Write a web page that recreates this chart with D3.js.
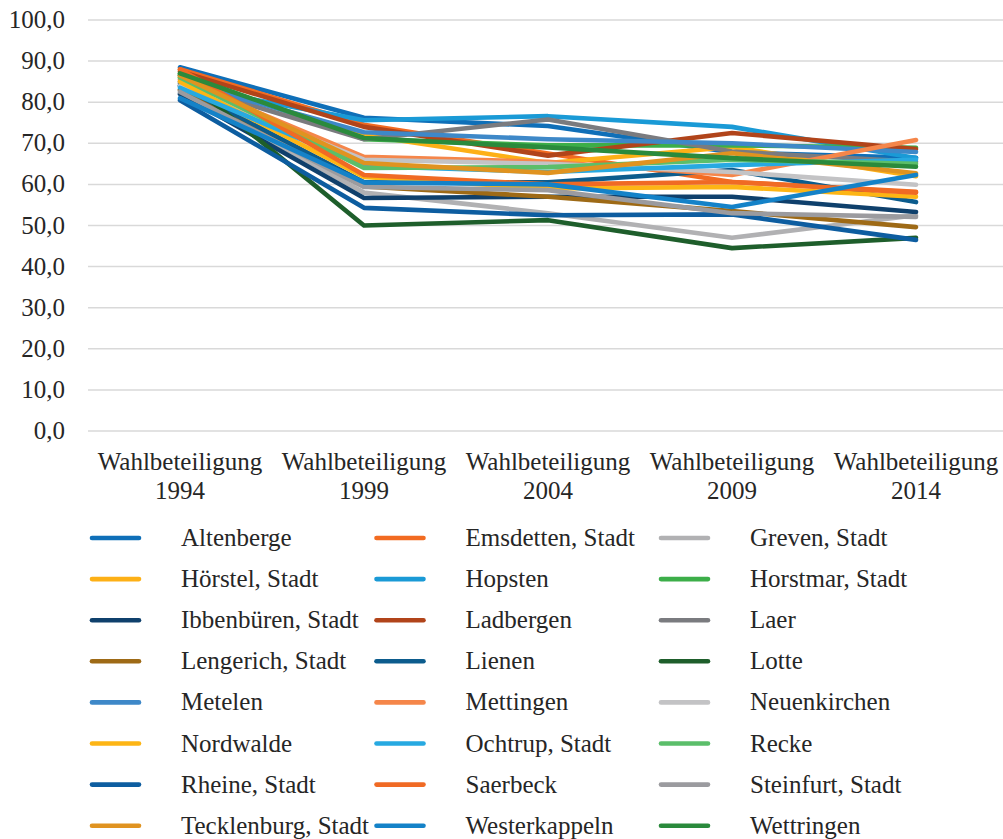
<!DOCTYPE html>
<html>
<head>
<meta charset="utf-8">
<script src="https://cdn.jsdelivr.net/npm/d3@7"></script>
</head>
<body style="margin:0">
<script>
// categories and values
const years = ["1994", "1999", "2004", "2009", "2014"];
const yTicks = [0, 10, 20, 30, 40, 50, 60, 70, 80, 90, 100];

const towns = ["Altenberge", "Emsdetten, Stadt", "Greven, Stadt", "Hörstel, Stadt", "Hopsten", "Horstmar, Stadt",
  "Ibbenbüren, Stadt", "Ladbergen", "Laer", "Lengerich, Stadt", "Lienen", "Lotte",
  "Metelen", "Mettingen", "Neuenkirchen", "Nordwalde", "Ochtrup, Stadt", "Recke",
  "Rheine, Stadt", "Saerbeck", "Steinfurt, Stadt", "Tecklenburg, Stadt", "Westerkappeln", "Wettringen"];

const turnout = [
  [88.5, 76.2, 74.2, 67.8, 66.5],
  [88.0, 74.5, 67.5, 60.6, 58.2],
  [83.0, 58.0, 53.0, 47.0, 52.5],
  [86.0, 72.0, 65.2, 69.1, 62.0],
  [84.0, 75.6, 76.6, 74.0, 66.4],
  [87.0, 71.0, 69.5, 69.5, 68.9],
  [82.0, 56.7, 57.0, 57.0, 53.3],
  [87.5, 74.0, 67.0, 72.5, 68.6],
  [84.5, 71.0, 75.8, 68.0, 65.5],
  [83.0, 59.5, 57.0, 53.5, 49.6],
  [84.0, 60.5, 60.5, 63.5, 55.7],
  [86.5, 50.0, 51.3, 44.5, 47.0],
  [85.0, 72.7, 71.0, 70.0, 67.9],
  [85.5, 66.7, 65.5, 62.3, 70.8],
  [84.0, 66.0, 65.0, 63.0, 59.9],
  [85.0, 61.8, 59.0, 59.4, 57.0],
  [83.5, 64.5, 63.0, 64.7, 66.0],
  [86.0, 64.0, 64.2, 66.0, 65.0],
  [80.5, 54.3, 52.5, 52.7, 46.5],
  [88.0, 62.3, 60.0, 60.6, 58.0],
  [82.5, 59.4, 58.6, 53.0, 52.1],
  [86.5, 65.2, 62.8, 67.6, 62.7],
  [81.0, 60.5, 60.0, 54.5, 62.3],
  [87.0, 71.3, 69.0, 66.4, 64.3]
];

const colors = ["#0f6fb8", "#f26b21", "#b1b1b3", "#fdb016", "#1a9ad6", "#3cae49",
  "#0f406c", "#b1441a", "#7a7b7f", "#9e6a16", "#0c5c8d", "#1e5e2b",
  "#3e88c8", "#f5864a", "#c3c3c5", "#fdb515", "#27a9e1", "#5bbe6a",
  "#0d5da0", "#f06a24", "#9b9b9f", "#e09320", "#1482c8", "#2a8a3c"];

const width = 1003, height = 839;
const svg = d3.select("body").append("svg")
  .attr("width", width)
  .attr("height", height);

const x = d3.scaleBand().domain(years).range([88, 1008]);
const y = d3.scaleLinear().domain([0, 100]).range([431, 20]);
const cx = d => x(d) + x.bandwidth() / 2;

// gridlines
svg.append("g")
  .selectAll("line")
  .data(yTicks)
  .join("line")
  .attr("x1", 88).attr("x2", 1003)
  .attr("y1", d => y(d)).attr("y2", d => y(d))
  .attr("stroke", "#d9d9d9")
  .attr("stroke-width", 1.5);

// y labels
svg.append("g")
  .selectAll("text")
  .data(yTicks)
  .join("text")
  .attr("x", 65)
  .attr("y", d => y(d) + 8)
  .attr("text-anchor", "end")
  .attr("font-size", 25)
  .attr("fill", "#262626")
  .style("font-family", '"Liberation Serif"')
  .text(d => d3.format(".1f")(d).replace(".", ","));

// x labels, two lines each
svg.append("g")
  .selectAll("text")
  .data(years)
  .join("text")
  .attr("text-anchor", "middle")
  .attr("x", cx)
  .attr("y", 470)
  .attr("font-size", 25)
  .attr("fill", "#262626")
  .style("font-family", '"Liberation Serif"')
  .text("Wahlbeteiligung");

svg.append("g")
  .selectAll("text")
  .data(years)
  .join("text")
  .attr("text-anchor", "middle")
  .attr("x", cx)
  .attr("y", 499)
  .attr("font-size", 25)
  .attr("fill", "#262626")
  .style("font-family", '"Liberation Serif"')
  .text(d => d);

// lines
const line = d3.line()
  .x((d, i) => cx(years[i]))
  .y(d => y(d));

svg.append("g")
  .selectAll("path")
  .data(turnout)
  .join("path")
  .attr("d", line)
  .attr("fill", "none")
  .attr("stroke", (d, i) => colors[i])
  .attr("stroke-width", 4.6)
  .attr("stroke-linejoin", "round")
  .attr("stroke-linecap", "round");

// legend
const legend = svg.append("g")
  .selectAll("g")
  .data(towns)
  .join("g")
  .attr("transform", (d, i) => `translate(${92 + (i % 3) * 284.5},${538 + Math.floor(i / 3) * 41.1})`);

legend.append("line")
  .attr("x1", 0).attr("x2", 47)
  .attr("stroke", (d, i) => colors[i])
  .attr("stroke-width", 4.6)
  .attr("stroke-linecap", "round");

legend.append("text")
  .attr("x", 89)
  .attr("y", 8)
  .attr("font-size", 25)
  .attr("fill", "#262626")
  .style("font-family", '"Liberation Serif"')
  .text(d => d);
</script>
</body>
</html>
